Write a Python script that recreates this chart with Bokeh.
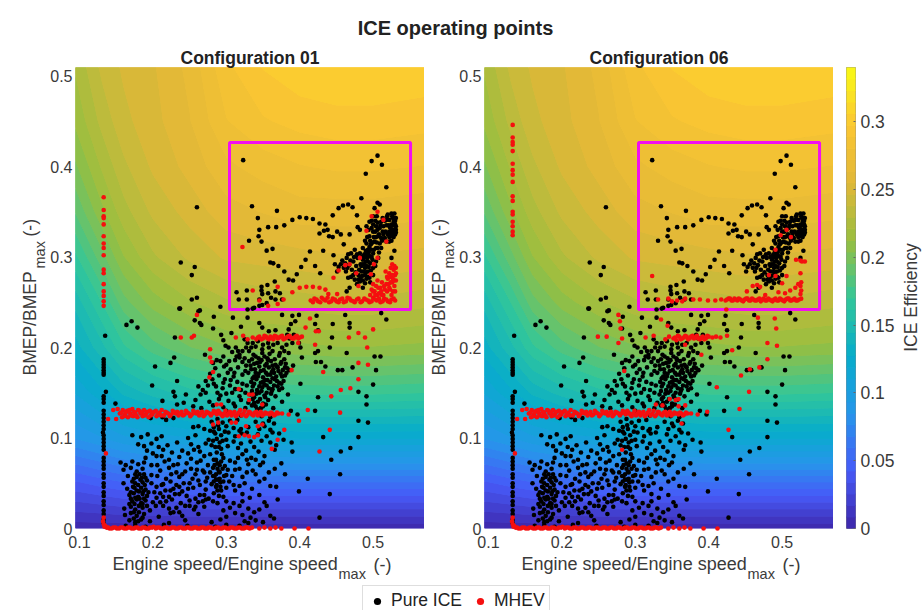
from math import pi
import numpy as np
from bokeh.embed import file_html
from bokeh.resources import INLINE
from bokeh.layouts import column, row
from bokeh.models import FixedTicker, Legend, LegendItem, Range1d, Title
from bokeh.core.properties import value
from bokeh.plotting import figure

# ---- efficiency map
SPEED_GRID = [0.09, 0.13, 0.16, 0.20, 0.25, 0.30, 0.35, 0.40, 0.45, 0.50, 0.575]
BMEP_GRID = [0.0, 0.02, 0.05, 0.10, 0.15, 0.20, 0.25, 0.30, 0.35, 0.40, 0.45, 0.51]
EFF_ROWS = [
    [.003, .003, .003, .003, .003, .003, .003, .003, .003, .003, .003],
    [.018, .020, .022, .023, .024, .024, .024, .024, .024, .024, .024],
    [.040, .046, .050, .053, .056, .058, .058, .058, .058, .058, .058],
    [.085, .093, .100, .106, .110, .115, .118, .120, .120, .120, .120],
    [.110, .125, .138, .148, .158, .165, .170, .172, .172, .172, .170],
    [.130, .150, .168, .183, .195, .203, .208, .210, .212, .212, .210],
    [.145, .170, .192, .208, .220, .228, .232, .234, .236, .236, .232],
    [.165, .192, .212, .228, .240, .248, .250, .252, .254, .254, .252],
    [.185, .210, .226, .240, .250, .260, .264, .268, .268, .268, .266],
    [.200, .222, .236, .248, .258, .270, .276, .280, .282, .282, .280],
    [.212, .232, .244, .252, .263, .280, .288, .292, .294, .294, .292],
    [.220, .240, .248, .254, .266, .287, .298, .304, .306, .306, .304],
]
CB_TICKS = [0, 0.05, 0.1, 0.15, 0.2, 0.25, 0.3]
CB_LABELS = ["0", "0.05", "0.1", "0.15", "0.2", "0.25", "0.3"]
X_TICKS = [0.1, 0.2, 0.3, 0.4, 0.5]
Y_TICKS = [0, 0.1, 0.2, 0.3, 0.4, 0.5]
BOX = (0.3044, 0.551, 0.242, 0.4265)

# ---- points, (speed, BMEP) in thousandths
BLACK_COLUMN = [(133,187),(133,184),(133,181),(133,178),(133,175),(133,172),(133,170),(135,213),(136,151),
 (133,146),(133,143),(133,139),(133,130),(133,126),(133,122),(133,118),(133,114),(133,110),(132,106),(133,103),
 (133,99),(133,95),(133,91),(133,87),(133,78),(133,74),(133,70),(133,66),(133,60),(133,56),(133,50),(133,46),
 (133,40),(133,36),(133,30),(133,26),(133,20),(133,16),(133,10),(133,6)]
BLACK_BOX = [(323,407),(260,355),(335,356),(369,351),(343,343),(345,330),(357,333),(368,333),(379,335),(390,341),
 (400,344),(409,343),(418,342),(427,337),(435,336),(427,326),(433,329),(438,330),(440,323),(445,322),(451,328),
 (456,325),(468,325),(445,346),(453,354),(459,357),(466,358),(472,355),(478,346),(484,365),(490,392),(498,406),
 (506,412),(512,402),(518,377),(506,360),(509,358),(502,354),(479,333),(482,330),(491,334),(344,323),(331,318),
 (348,317),(355,307),(363,309),(238,294),(257,289),(253,280),(253,253),(260,255),(237,243),(264,241),(292,245),
 (360,294),(364,293),(371,290),(379,284),(385,275),(391,274),(396,281),(402,289),(408,297),(414,306),(421,290),
 (428,282),(432,307),(446,302),(460,314),(314,261),(328,263),(348,267),(356,269),(366,273),(348,263),(317,253),
 (328,253),(345,253),(349,259),(357,260),(367,262),(373,260),(361,255),(355,249),(345,246),(336,243),(367,253),(376,253)]
BLACK_PLUME = [(448,292),(453,289),(458,296),(464,299),(470,304),(475,308),(466,303),(462,293),(473,295),(479,299),
 (482,304),(486,310),(491,315),(495,323),(500,328),(504,334),(495,339),(500,336),(503,328),(507,323),(502,317),
 (497,314),(493,308),(491,303),(486,297),(483,292),(489,288),(493,295),(495,301),(484,284),(480,280),(489,280),
 (493,284),(471,286),(466,277),(468,266),(464,262),(475,275),(482,273),(489,271),(500,288),(507,299),(511,310),
 (516,321),(518,335),(520,347),(525,348),(529,348),(530,343),(527,343),(522,341),(525,336),(530,336),(531,330),
 (527,330),(522,328),(525,323),(530,325),(522,317),(518,317),(529,307),(525,299),(518,341),(511,339),(509,332),
 (513,328),(511,321),(504,310),(500,304),(504,295),(486,292),(481,286),(477,290),(473,280),(495,277),(486,266),
 (528,339),(526,327),(523,333),(531,334),(514,334),(517,328),(498,332),(496,318),(488,303),(490,295),(487,284),
 (483,277),(476,283),(470,278),(463,284),(467,291),(478,270),(491,276),(497,285),(499,297),(505,316),(508,305)]
BLACK_PLUME2 = [(526,345),(530,340),(528,335),(524,332),(531,327),(528,322),(524,326),(521,335),(519,345),(516,340),
 (513,343),(510,335),(506,338),(505,345),(503,340),(500,345),(498,340),(494,330),(492,322),(489,318),(490,307),
 (487,300),(484,300),(478,303),(474,300),(469,296),(465,288),(460,288),(456,292),(451,284),(484,290),(485,279),
 (480,275),(492,299),(494,305),(497,308),(498,300),(496,293),(489,300),(491,290),(488,292),(494,289),(486,274),
 (490,283),(493,278),(496,272),(500,280),(503,290),(506,310),(509,315),(512,318),(514,325),(508,325),(506,330),
 (504,322),(501,322),(499,316),(495,311),(501,308),(531,343),(529,330),(527,324),(525,318),(520,325),(522,322)]
BLACK_UPPER = [(349,247),(338,244),(329,242),(376,236),(390,235),(399,236),(423,235),(445,226),(462,236),(468,227),
 (468,222),(511,238),(518,231),(421,226),(425,219),(444,211),(388,226),(385,220),(383,214),(394,229),(345,227),
 (349,222),(358,218),(367,219),(329,233),(320,223),(307,216),(293,214),(296,208),(299,202),(309,233),(283,234),
 (257,230),(264,227),(266,225),(282,221),(230,211),(313,200),(318,192),(316,196),(325,209),(329,205),(334,200),
 (340,201),(349,198),(358,200),(379,196),(399,205),(401,200),(425,196),(421,194),(441,200),(464,194),(502,190),
 (510,190),(504,175),(500,159),(491,146),(480,151),(491,137),(480,119),(493,117),(480,101),(469,89),(456,85),
 (443,76),(455,60),(441,38),(427,12),(411,55),(399,41),(390,85),(389,95),(432,101),(421,130),(397,126),(388,130),
 (425,145),(401,160),(472,178),(452,175),(458,175),(435,179),(429,184),(422,184),(403,189),(164,225),(171,229),
 (179,222),(203,179),(224,183),(229,189),(199,158),(233,163),(228,151),(230,146),(245,148),(242,139),(233,137),
 (213,141),(149,138),(236,243),(262,240)]
BLACK_MID = [(271,192),(287,186),(296,190),(304,185),(318,189),(325,188),(331,196),(340,190),(349,194),(356,188),
 (363,196),(372,191),(379,187),(385,194),(282,183),(292,185),(300,181),(312,186),(322,184),(335,187),(342,183),
 (348,186),(355,182),(361,185),(367,181),(375,184),(381,182),(285,177),(297,179),(306,176),(316,178),(333,180),
 (339,176),(345,179),(351,175),(358,178),(364,176),(369,179),(377,175),(383,177),(278,171),(290,169),(302,172),
 (310,168),(330,172),(338,168),(344,171),(350,167),(356,170),(362,173),(368,168),(374,171),(380,169),(272,163),
 (281,165),(296,161),(306,164),(334,162),(341,165),(347,161),(353,164),(360,162),(366,165),(372,161),(378,163),
 (262,157),(268,153),(286,157),(295,155),(305,158),(312,154),(336,157),(342,153),(349,156),(355,158),(363,154),
 (370,157),(376,155),(265,148),(272,150),(292,147),(300,149),(318,146),(333,148),(338,145),(345,150),(352,147),
 (361,149),(367,146),(258,142),(277,140),(290,143),(303,141),(310,138),(320,142),(330,139),(336,143),(343,140),
 (350,138),(357,142),(255,135),(266,133),(282,136),(296,134),(312,135),(326,133),(335,136),(342,132),(350,135),
 (364,133),(320,125),(348,124),(360,123),(300,130),(376,140),(384,148),(328,158),(322,170),(386,175),(391,180)]
BLACK_MID2 = [(337,192),(344,188),(352,190),(359,193),(366,187),(373,194),(327,180),(331,185),(338,182),(346,184),
 (353,180),(357,186),(363,180),(370,178),(374,182),(380,178),(326,174),(334,176),(340,172),(347,174),(354,172),
 (360,170),(365,172),(371,174),(376,168),(382,172),(336,166),(343,168),(350,162),(356,164),(363,166),(369,163),
 (375,160),(338,160),(345,157),(352,159),(358,155),(365,158),(372,153),(335,152),(341,149),(348,152),(355,150),
 (362,152),(338,139),(346,143),(353,145),(340,135),(347,133),(354,137),(320,153),(315,162),(311,172),(322,160),
 (326,150),(308,150),(298,165),(288,150),(283,160),(275,158),(314,190),(308,195),(303,200),(322,196),(327,200),
 (336,205),(343,207),(350,203),(357,205),(364,203),(370,205),(376,200),(382,203),(390,205),(386,210),(392,214)]
BLACK_BELOW = [(280,118),(288,121),(295,117),(305,119),(315,120),(340,118),(350,116),(358,119),(365,116),(283,112),
 (290,110),(300,113),(310,111),(318,108),(330,112),(345,110),(352,113),(360,109),(285,105),(293,103),(303,106),
 (312,102),(321,105),(343,104),(355,102),(363,106),(282,97),(291,95),(300,98),(310,96),(320,94),(348,97),(360,95),
 (368,92),(285,90),(293,88),(302,91),(316,89),(327,86),(366,87),(197,122),(213,123),(218,120),(228,122),(255,112),
 (262,113),(270,110),(278,108),(172,103),(184,101),(193,104),(205,99),(212,102),(248,100),(258,103),(276,98),
 (180,93),(188,91),(198,94),(208,90),(220,92),(233,95),(252,93),(262,90),(272,94),(192,86),(200,83),(214,87),
 (226,84),(240,86),(248,83),(256,87),(264,85),(278,82),(287,84),(190,78),(205,80),(222,76),(236,79),(252,77),
 (270,80),(283,76),(296,78),(305,75)]
BLACK_LOW = [(156,73),(163,70),(172,74),(180,71),(188,73),(206,70),(216,74),(234,71),(260,73),(275,70),(288,72),
 (298,69),(312,73),(330,71),(160,65),(170,67),(178,63),(186,66),(210,64),(222,67),(244,63),(252,66),(268,64),
 (282,67),(290,63),(302,65),(318,66),(328,62),(336,64),(166,58),(176,60),(190,56),(198,59),(236,57),(258,60),
 (274,56),(284,58),(291,55),(300,59),(322,57),(340,60),(352,55),(160,50),(172,52),(180,48),(186,51),(192,53),
 (214,49),(224,52),(232,48),(250,50),(262,53),(280,49),(292,51),(310,48),(325,50),(345,52),(360,47),(165,44),
 (173,46),(178,42),(184,45),(190,43),(205,46),(217,42),(228,44),(240,41),(255,45),(272,43),(286,46),(293,42),
 (335,44),(168,37),(174,39),(180,35),(186,38),(192,36),(210,39),(222,35),(236,38),(246,36),(258,33),(270,37),
 (283,39),(296,35),(322,38),(332,34),(345,37),(172,30),(178,32),(184,28),(190,31),(200,29),(226,32),(238,28),
 (250,31),(262,29),(272,32),(288,28),(322,30),(352,29),(370,32),(161,22),(170,24),(176,21),(186,23),(196,20),
 (232,23),(244,25),(256,21),(270,24),(296,20),(305,23),(318,25),(345,21),(162,15),(170,17),(178,14),(188,16),
 (208,13),(224,17),(240,14),(262,16),(300,13),(312,17),(322,15),(338,18),(360,14),(168,9),(176,7),(184,10),
 (196,8),(222,6),(244,9),(280,7),(292,10),(330,6),(340,9),(350,7),(365,11),(163,3),(176,4),(190,2),(215,4),
 (247,3),(285,2),(300,4),(318,3),(286,60),(289,54),(287,48),(291,62),(284,70),(293,74),(295,66),(283,52),
 (297,58),(288,42),(290,36)]
BLACK_LOW2 = [(174,55),(178,57),(182,60),(185,56),(188,60),(176,50),(183,54),(189,48),(175,45),(181,41),(187,41),
 (170,40),(176,34),(182,33),(188,33),(194,40),(170,33),(175,27),(181,25),(186,27),(192,25),(168,27),(174,18),
 (181,18),(186,12),(174,11),(180,8),(214,35),(218,30),(224,42),(230,38),(236,46),(242,50),(248,44),(205,34),
 (210,29),(204,25),(214,25),(222,22),(228,18),(236,18),(250,25),(258,24),(264,37),(268,30),(276,33),(282,30),
 (278,62),(282,58),(286,54),(292,46),(288,66),(294,82),(290,90),(287,99),(283,107),(289,114),(280,92),(298,107),
 (295,97),(286,76),(291,70),(296,52),(300,45),(304,52),(308,58),(312,65),(316,78),(322,82),(328,76),(334,78),
 (340,76),(346,70),(350,73),(312,42),(318,47),(300,30),(310,28),(330,22),(333,12),(325,8),(355,25),(368,46),
 (375,72),(366,66),(358,62),(380,60),(352,80),(344,85),(338,90),(333,96),(320,110),(328,106),(372,105),(378,98),
 (198,70),(212,80),(228,70),(240,60),(246,72),(265,75),(270,62),(260,65),(254,55),(264,48),(272,52),(225,60),
 (232,62),(218,55),(206,58),(212,48),(198,50),(202,40)]

RED_BOTTOM = [(133,12),(132,8),(133,5),(134,2),(137,1),(141,0),(146,1),(151,0),(156,1),(161,0),(166,1),(171,0),
 (176,1),(181,0),(186,1),(191,0),(196,1),(201,2),(206,1),(211,0),(216,1),(221,0),(226,1),(231,0),(236,1),(241,0),
 (246,1),(251,0),(256,1),(261,0),(266,1),(271,0),(276,1),(281,0),(286,1),(291,0),(296,1),(301,0),(306,1),(311,0),
 (316,1),(321,0),(326,1),(332,0),(345,0),(352,1),(360,0),(367,1),(375,0),(393,0),(412,0),(135,3),(139,1),(144,0),
 (149,1),(154,0),(159,1),(164,0),(169,1),(174,0),(179,1),(184,0),(189,1),(194,0),(199,1),(204,0),(209,1),(214,0),
 (219,1),(224,0),(229,1),(234,0),(239,1),(244,0),(249,1),(254,0),(259,1),(264,0),(269,1),(274,0),(279,1),(284,0),
 (289,1),(294,0),(299,1),(304,0),(309,1),(314,0),(319,1),(324,0),(329,1),(335,1)]
RED_BAND_127 = [(139,121),(150,121),(146,131),(152,132),(155,127),(158,123),(159,131),(162,126),(165,130),(166,123),
 (169,127),(172,132),(173,124),(176,128),(179,123),(180,131),(183,127),(186,124),(188,131),(191,127),(194,123),
 (196,130),(199,126),(202,129),(205,124),(209,128),(212,131),(215,125),(219,128),(223,124),(227,130),(231,127),
 (235,125),(239,129),(243,126),(247,128),(251,124),(255,130),(259,127),(263,125),(267,129),(271,126),(275,128),
 (279,125),(283,130),(287,126),(291,128),(295,124),(299,130),(303,127),(307,125),(311,129),(315,126),(319,131),
 (323,127),(327,124),(331,129),(335,126),(339,128),(343,125),(347,129),(351,126),(355,127),(359,126),(363,127),
 (367,126),(371,127),(376,127),(385,126),(157,128),(161,124),(163,128),(168,131),(170,125),(174,129),(177,125),
 (182,130),(185,128),(189,125),(192,129),(197,125),(200,128),(204,130),(207,126),(211,125),(217,129),(221,127),
 (225,126),(229,128),(233,129),(237,127),(241,125),(245,130),(249,127),(253,126),(257,128),(261,129),(265,127),
 (269,124),(273,129),(277,127),(281,127),(285,128),(289,130),(293,126),(297,127),(301,125),(305,129),(309,127),
 (313,124),(317,128),(321,125),(325,130),(329,126),(333,128),(337,125),(341,129),(345,127),(349,125),(353,128),(357,127),(361,128),(365,125),(369,128)]
RED_01_COLUMN = [(133,366),(133,352),(133,345),(133,343),(133,336),(133,323),(133,315),(133,310),(133,302),(133,286),
 (133,282),(133,270),(133,262),(133,257),(133,251),(133,246),(136,83)]
RED_01_BAND_211 = [(313,211),(323,213),(329,209),(336,211),(341,209),(345,212),(350,210),(354,212),(358,209),(362,211),
 (366,213),(370,210),(374,212),(378,209),(382,211),(386,213),(390,210),(394,212),(398,210),(403,212),(343,211),(348,209),
 (352,213),(356,210),(360,212),(364,209),(368,212),(372,211),(376,213),(380,210),(384,212),(388,211),(392,210),(396,213),(400,211)]
RED_01_SCATTER = [(238,211),(253,211),(256,213),(260,236),(278,198),(278,189),(280,184),(282,173),(277,167),(317,154),
 (331,148),(336,148),(331,142),(349,137),(287,137),(293,137),(389,175),(432,173),(480,183),(493,181),(492,200),
 (489,211),(480,216),(467,211),(500,220),(422,218),(426,218),(421,203),(414,232),(408,222),(398,205),(480,165),
 (469,155),(456,153),(443,146),(455,128),(411,131),(399,119),(379,109),(441,109),(427,85),(370,98),(362,88),
 (282,115),(289,117),(307,117),(313,117),(327,113),(343,113),(349,115),(317,102),(325,103),(331,102),(338,101),(343,103)]
RED_01_BOX = [(322,311),(370,267),(336,263),(345,252),(357,246),(378,253),(370,248),(390,261),(400,266),(409,267),
 (418,267),(427,266),(435,264),(439,259),(451,259),(446,277),(453,285),(462,291),(468,292),(477,282),(482,299),
 (491,329),(498,345),(506,350),(514,341),(518,317),(506,299),(501,292),(497,281),(480,268),(415,252),(420,254),
 (425,251),(430,255),(435,252),(440,250),(445,254),(450,251),(455,253),(460,250),(465,255),(470,252),(475,250),
 (480,254),(485,251),(490,253),(495,250),(500,255),(505,252),(510,250),(515,254),(520,251),(525,253),(530,252),
 (496,258),(498,264),(500,270),(502,262),(504,268),(506,274),(508,260),(510,266),(512,272),(514,258),(516,264),
 (518,270),(520,276),(522,282),(524,288),(526,292),(528,286),(530,280),(531,274),(529,268),(527,262),(525,258),
 (523,264),(521,270),(519,278),(517,284),(528,274),(530,262),(524,278),(526,272),(531,288),(512,258),(506,258),
 (418,250),(423,253),(428,250),(433,253),(438,255),(443,251),(448,253),(453,250),(458,254),(463,251),(468,254),
 (473,251),(478,253),(483,250),(488,254),(493,252),(498,251),(503,253),(508,254),(513,251),(518,253),(523,250),(528,254),
 (500,262),(503,258),(507,266),(511,262),(515,268),(519,262),(522,266),(524,272),(526,280),(529,290),(527,276),(531,282)]
RED_06_COLUMN = [(133,446),(133,432),(133,427),(133,424),(133,417),(133,403),(133,396),(133,391),(133,383),(133,367),
 (133,362),(133,350),(133,347),(133,339),(133,334),(133,328),(133,324),(136,83)]
RED_06_BAND_211 = [(341,209),(346,212),(352,210),(356,208),(360,212),(364,210),(368,213),(372,209),(376,212),(380,210),
 (384,213),(388,209),(392,212),(396,210),(400,212),(405,211),(410,212),(416,211),(425,213),(354,211),(358,213),(362,209),
 (366,211),(370,212),(374,210),(378,213),(382,211),(386,210),(390,211),(394,209),(398,213)]
RED_06_SCATTER = [(249,212),(261,212),(277,236),(279,229),(280,221),(282,210),(277,205),(285,174),(314,211),(325,213),
 (335,231),(344,224),(368,203),(390,192),(432,197),(480,205),(493,202),(480,187),(469,178),(456,176),(444,169),
 (411,156),(455,151),(442,132),(427,109),(398,129),(363,116),(282,87),(424,242),(467,233),(490,232),(492,221),
 (347,143),(355,142),(359,143),(328,137),(337,136),(359,135),(368,136)]
RED_06_BOX = [(323,279),(331,253),(345,254),(350,251),(357,252),(364,251),(368,254),(379,253),(388,253),(399,252),
 (409,252),(417,253),(423,252),(427,254),(431,252),(435,254),(439,252),(443,253),(447,251),(451,254),(455,252),
 (459,254),(463,252),(467,253),(471,251),(475,254),(479,252),(483,253),(487,251),(491,254),(495,252),(499,253),
 (503,251),(507,254),(511,252),(515,253),(519,252),(523,253),(526,254),(525,259),(526,263),(525,268),(526,272),
 (519,297),(525,296),(527,295),(531,295),(525,282),(506,330),(498,324),(512,322),(491,308),(482,280),(491,279),
 (506,279),(500,271),(460,268),(466,269),(470,267),(452,262),(477,258),(495,261),(504,260),(511,263),(518,266),(522,270),
 (425,253),(429,254),(433,252),(437,253),(441,254),(445,252),(449,253),(453,254),(457,252),(461,253),(465,252),(469,254),
 (473,253),(477,252),(481,254),(485,252),(489,253),(493,252),(497,254),(501,252),(505,253),(509,254),(513,252),(517,254),(521,252)]

BLACK = (BLACK_COLUMN + BLACK_BOX + BLACK_PLUME + BLACK_PLUME2 + BLACK_UPPER + BLACK_MID + BLACK_MID2
         + BLACK_BELOW + BLACK_LOW + BLACK_LOW2)
RED_01 = RED_BOTTOM + RED_BAND_127 + RED_01_COLUMN + RED_01_BAND_211 + RED_01_SCATTER + RED_01_BOX
RED_06 = RED_BOTTOM + RED_BAND_127 + RED_06_COLUMN + RED_06_BAND_211 + RED_06_SCATTER + RED_06_BOX

FONT = "Liberation Sans"
TXT = "#3a3a3a"
STOPS_T = [0, .125, .25, .375, .5, .625, .75, .875, 1]
STOPS = ["#3e26a8", "#475bf9", "#2796eb", "#07adcb", "#33c799", "#99bf40", "#e1b838", "#fcc733", "#f9fb15"]
LEVELS = np.linspace(0, 0.34, 41)


def make_palette(n):
    rgb = np.array([[int(c[i:i + 2], 16) for i in (1, 3, 5)] for c in STOPS], float)
    t = (np.arange(n) + .5) / n
    out = [np.interp(t, STOPS_T, rgb[:, k]) for k in range(3)]
    return ["#%02x%02x%02x" % (int(r), int(g), int(b)) for r, g, b in zip(*out)]


PALETTE = make_palette(len(LEVELS) - 1)


def xs(pts):
    return [p[0] / 1000 for p in pts]


def ys(pts):
    return [p[1] / 1000 for p in pts]


def put(p, x, y, t, size, angle=0.0, align="left"):
    p.text([x], [y], text=[t], angle=angle, text_font=value(FONT), text_font_size=value(size),
           text_color=TXT, text_align=align, text_baseline="middle")


def blank(frame_w, frame_h, x_range, y_range, top=0, bottom=0):
    s = figure(frame_width=frame_w, frame_height=frame_h, min_border_left=0, min_border_right=0,
               min_border_top=top, min_border_bottom=bottom, toolbar_location=None, output_backend="svg",
               x_range=Range1d(*x_range), y_range=Range1d(*y_range), outline_line_color=None,
               background_fill_color=None, border_fill_color=None)
    s.axis.visible = False
    s.grid.visible = False
    return s


def panel(title, red, left):
    p = figure(frame_width=349, frame_height=461, min_border_left=left, min_border_right=0,
               min_border_top=23, min_border_bottom=27, toolbar_location=None, output_backend="svg",
               x_range=Range1d(0.0946, 0.570), y_range=Range1d(0, 0.5094), outline_line_color=None,
               background_fill_color=None, border_fill_color=None)
    p.grid.visible = False
    p.title = Title(text=title, text_font=FONT, text_font_size="17.5px", text_font_style="bold",
                    text_color="#222222", align="center", standoff=0)
    for _ in range(3):
        p.contour(SPEED_GRID, BMEP_GRID, np.array(EFF_ROWS), LEVELS, fill_color=PALETTE, line_color=None)
    p.quad(left=BOX[0], right=BOX[1], bottom=BOX[2], top=BOX[3], fill_color=None, line_color="#f20ff0", line_width=3)
    p.scatter(xs(BLACK), ys(BLACK), size=4.6, color="#000000", line_color=None, level="overlay")
    p.scatter(xs(red), ys(red), size=4.6, color="#f50f0f", line_color=None, level="overlay")
    for ax, tk in ((p.xaxis[0], X_TICKS), (p.yaxis[0], Y_TICKS)):
        ax.ticker = FixedTicker(ticks=tk)
        ax.axis_line_color = None
        ax.major_tick_line_color = None
        ax.minor_tick_line_color = None
        ax.major_tick_out = 0
        ax.major_tick_in = 0
        ax.major_label_text_font = FONT
        ax.major_label_text_font_size = "16px"
        ax.major_label_text_color = TXT
    p.xaxis[0].major_label_overrides = {0.1: "0.1", 0.2: "0.2", 0.3: "0.3", 0.4: "0.4", 0.5: "0.5"}
    p.yaxis[0].major_label_overrides = {0: "0", 0.1: "0.1", 0.2: "0.2", 0.3: "0.3", 0.4: "0.4", 0.5: "0.5"}
    p.xaxis[0].major_label_standoff = 7
    p.yaxis[0].major_label_standoff = 3
    return p


def y_label_strip(width, cx):
    s = blank(width, 461, (0, width), (528, 67), top=23, bottom=27)
    put(s, cx, 375, "BMEP/BMEP", "17.5px", pi / 2)
    put(s, cx + 10, 268, "max", "14.5px", pi / 2)
    put(s, cx, 236, "(-)", "17.5px", pi / 2)
    return s


strip_a = y_label_strip(47, 29)
p1 = panel("Configuration 01", RED_01, 28)
strip_b = y_label_strip(32, 14)
p2 = panel("Configuration 06", RED_06, 28)

cb = figure(frame_width=9, frame_height=461, min_border_left=13, min_border_right=40, min_border_top=23,
            min_border_bottom=27, toolbar_location=None, output_backend="svg", x_range=Range1d(0, 1),
            y_range=Range1d(0, 0.34), y_axis_location="right", outline_line_color="#8c8c8c",
            background_fill_color=None, border_fill_color=None)
cb.grid.visible = False
cb.xaxis.visible = False
cb.quad(left=0, right=1, bottom=LEVELS[:-1], top=LEVELS[1:], fill_color=PALETTE, line_color=PALETTE)
ay = cb.yaxis[0]
ay.ticker = FixedTicker(ticks=CB_TICKS)
ay.major_label_overrides = dict(zip(CB_TICKS, CB_LABELS))
ay.axis_line_color = None
ay.minor_tick_line_color = None
ay.major_tick_in = 2
ay.major_tick_out = 0
ay.major_tick_line_color = "#666666"
ay.major_label_text_font = FONT
ay.major_label_text_font_size = "17.5px"
ay.major_label_text_color = TXT
ay.major_label_standoff = 5
strip_c = blank(29, 461, (0, 29), (528, 67), top=23, bottom=27)
put(strip_c, 13, 297, "ICE Efficiency", "17.5px", pi / 2, "center")

head = blank(910, 2, (0, 1), (0, 1), top=38, bottom=4)
head.min_border_right = 14
head.title = Title(text="ICE operating points", text_font=FONT, text_font_size="20px", text_font_style="bold",
                   text_color="#222222", align="center", standoff=0)

foot = blank(924, 55, (0, 924), (610, 555))
for off in (0, 409):
    put(foot, 112 + off, 563, "Engine speed/Engine speed", "18px")
    put(foot, 338 + off, 573, "max", "14.5px")
    put(foot, 373 + off, 564, "(-)", "18px")
r_ice = foot.scatter([float("nan")], [600.0], size=4, color="#000000", line_color=None)
r_mhev = foot.scatter([float("nan")], [600.0], size=4, color="#f50f0f", line_color=None)
leg = Legend(items=[LegendItem(label="Pure ICE", renderers=[r_ice]), LegendItem(label="MHEV", renderers=[r_mhev])],
             orientation="horizontal", location=(362, -6), padding=4, margin=0, spacing=8, label_standoff=4,
             glyph_width=20, glyph_height=18, label_height=18, label_text_font=FONT, label_text_font_size="17.5px",
             label_text_color="#222222", border_line_color="#bdbdbd", border_line_width=1.5, background_fill_alpha=1)
foot.add_layout(leg)

page = column(head, row(strip_a, p1, strip_b, p2, cb, strip_c, spacing=0), foot, spacing=0)
open("out.html", "w").write(file_html(page, INLINE))
